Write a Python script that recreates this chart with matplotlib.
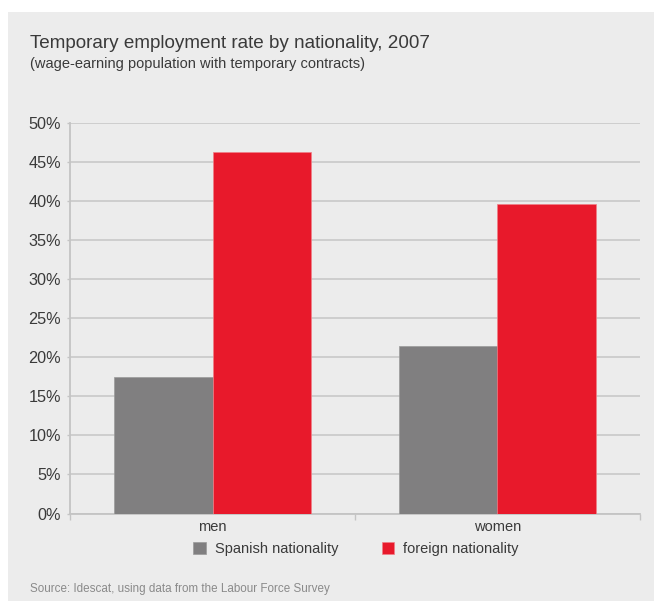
import matplotlib.pyplot as plt
import numpy as np
from matplotlib.patches import Rectangle

plt.rcParams['font.family'] = ['Liberation Sans', 'DejaVu Sans']

# data
categories = ['men', 'women']
spanish = [17.5, 21.4]
foreign = [46.3, 39.6]
series_names = ['Spanish nationality', 'foreign nationality']
yticks = [0, 5, 10, 15, 20, 25, 30, 35, 40, 45, 50]

grey = '#807f80'
red = '#e8192b'
bg = '#ececec'
txt = '#3a3a3a'

fig = plt.figure(figsize=(6.54, 6.01), dpi=100)
fig.patch.set_facecolor('white')
# grey panel behind everything
fig.patches.append(Rectangle((8 / 654, 0), 1, (601 - 12) / 601, transform=fig.transFigure,
                             facecolor=bg, edgecolor='none', zorder=-10))

ax = fig.add_axes([70 / 654, (601 - 513.5) / 601, 570 / 654, (513.5 - 123.3) / 601])
ax.set_facecolor(bg)

x = np.arange(len(categories))
w = 0.344
ax.bar(x - w / 2, spanish, w, color=grey, edgecolor='#9a9a9a', linewidth=0.5, label=series_names[0], zorder=3)
ax.bar(x + w / 2, foreign, w, color=red, edgecolor='#f08088', linewidth=0.5, label=series_names[1], zorder=3)

ax.set_xlim(-0.5, 1.5)
ax.set_ylim(0, 50)
ax.set_yticks(yticks)
ax.set_yticklabels([f'{v}%' for v in yticks], fontsize=11.7, color=txt)
ax.yaxis.grid(True, color='#cbcbcb', linewidth=1.3, zorder=0)
ax.set_axisbelow(True)

ax.set_xticks(x)
ax.set_xticklabels(categories, fontsize=10.5, color=txt)
ax.set_xticks([-0.5, 0.5, 1.5], minor=True)
ax.tick_params(axis='x', which='major', length=0, pad=5)
ax.tick_params(axis='x', which='minor', length=4, color='#c4c4c4', width=1)
ax.tick_params(axis='y', length=2.2, color='#c4c4c4', width=1, pad=4.3)

for s in ['top', 'right']:
    ax.spines[s].set_visible(False)
for s in ['left', 'bottom']:
    ax.spines[s].set_color('#c4c4c4')
    ax.spines[s].set_linewidth(1.3)

fig.text(30 / 654, 1 - 48.5 / 601, 'Temporary employment rate by nationality, 2007',
         fontsize=13.6, color=txt, va='baseline')
fig.text(30 / 654, 1 - 68 / 601, '(wage-earning population with temporary contracts)',
         fontsize=10.5, color=txt, va='baseline')
fig.text(30 / 654, 1 - 592 / 601, 'Source: Idescat, using data from the Labour Force Survey',
         fontsize=8.4, color='#8a8a8a', va='baseline')

ax.legend(ncol=2, loc='center', bbox_to_anchor=(356 / 654, 1 - 549 / 601),
          bbox_transform=fig.transFigure, frameon=False, fontsize=10.5,
          handlelength=0.85, handleheight=0.85, handletextpad=0.6, columnspacing=3.0,
          labelcolor=txt)

fig.savefig('out.png', dpi=100, facecolor=fig.get_facecolor())
